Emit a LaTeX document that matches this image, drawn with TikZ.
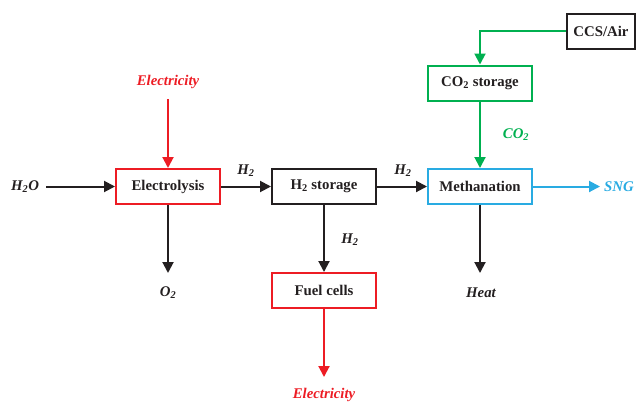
\documentclass[tikz,border=0pt]{standalone}
\usepackage{fontspec}
\setmainfont{Liberation Serif}
\usetikzlibrary{arrows.meta}
\definecolor{cred}{RGB}{237,28,36}
\definecolor{cgreen}{RGB}{0,176,80}
\definecolor{cblue}{RGB}{41,171,226}
\definecolor{cblack}{RGB}{35,31,32}
\begin{document}
\begin{tikzpicture}[x=1pt,y=-1pt,
  font=\fontsize{14.8}{16}\selectfont\bfseries,
  box/.style={draw, line width=2pt, minimum width=104pt, minimum height=35pt, inner sep=0pt, text=cblack},
  lab/.style={font=\fontsize{14.8}{16}\selectfont\bfseries\itshape, inner sep=0pt},
  flow/.style={line width=2pt, -{Triangle[length=11pt,width=11pt]}}]
\useasboundingbox (0,0) rectangle (636,402);
% boxes
\node[box, draw=cred] (ely) at (168,186.5) {Electrolysis};
\node[box, draw=cblack] (h2s) at (324,186.5) {H\textsubscript{2} storage};
\node[box, draw=cblue] (meth) at (480,186.5) {Methanation};
\node[box, draw=cgreen] (co2s) at (480,83) {CO\textsubscript{2} storage};
\node[box, draw=cblack, minimum width=68pt] (ccs) at (601,31) {CCS/Air};
\node[box, draw=cred] (fc) at (324,290.5) {Fuel cells};
% labels
\node[lab, text=cred] (elin) at (168,82) {Electricity};
\node[lab, text=cblack] (h2o) at (25,186.5) {H\textsubscript{2}O};
\node[lab, text=cblack] (o2) at (168,293) {O\textsubscript{2}};
\node[lab, text=cblack] (heat) at (481,293) {Heat};
\node[lab, text=cblue, anchor=west] (sng) at (604,186.5) {SNG};
\node[lab, text=cred] (elout) at (324,395) {Electricity};
\node[lab, text=cblack] (h2a) at (246,171) {H\textsubscript{2}};
\node[lab, text=cblack] (h2b) at (403,171) {H\textsubscript{2}};
\node[lab, text=cblack] (h2c) at (350,240) {H\textsubscript{2}};
\node[lab, text=cgreen] (co2l) at (516,135) {CO\textsubscript{2}};
% coordinates
\coordinate (elstart) at (168,99);
\coordinate (h2ostart) at (46,186.5);
\coordinate (o2end) at (168,273);
\coordinate (heatend) at (480,273);
\coordinate (sngend) at (600,186.5);
\coordinate (eloutend) at (324,377);
% connectors
\draw[flow, cred] (elstart) -- (ely.north);
\draw[flow, cblack] (h2ostart) -- (ely.west);
\draw[flow, cblack] (ely.east) -- (h2s.west);
\draw[flow, cblack] (h2s.east) -- (meth.west);
\draw[flow, cblack] (ely.south) -- (o2end);
\draw[flow, cblack] (h2s.south) -- (fc.north);
\draw[flow, cblack] (meth.south) -- (heatend);
\draw[flow, cblue] (meth.east) -- (sngend);
\draw[flow, cred] (fc.south) -- (eloutend);
\draw[flow, cgreen] (ccs.west) -| (co2s.north);
\draw[flow, cgreen] (co2s.south) -- (meth.north);
\end{tikzpicture}
\end{document}
